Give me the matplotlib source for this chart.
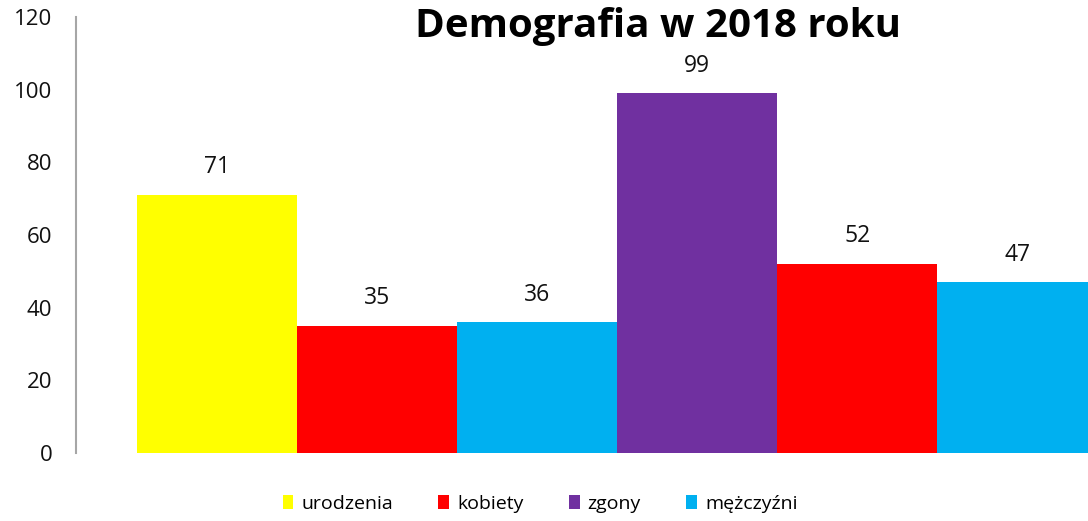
import matplotlib
matplotlib.use("Agg")
import matplotlib.pyplot as plt
from matplotlib.patches import Patch

plt.rcParams['font.family'] = ['Open Sans', 'DejaVu Sans']

# Data
bar_series = ["urodzenia", "kobiety", "mężczyźni", "zgony", "kobiety", "mężczyźni"]
bar_values = [71, 35, 36, 99, 52, 47]
legend_series = ["urodzenia", "kobiety", "zgony", "mężczyźni"]
series_colors = {"urodzenia": "#FFFF00", "kobiety": "#FF0000",
                 "zgony": "#7030A0", "mężczyźni": "#00B0F0"}
y_ticks = [0, 20, 40, 60, 80, 100, 120]
title = "Demografia w 2018 roku"

fig = plt.figure(figsize=(10.88, 5.21), dpi=100)
ax = fig.add_axes([76/1088, 68/521, 1 - 76/1088, (453-17)/521])

xs = list(range(len(bar_values)))
ax.bar(xs, bar_values, width=1.0, align='edge',
       color=[series_colors[s] for s in bar_series], linewidth=0)
for x, v in zip(xs, bar_values):
    ax.text(x + 0.5, v + 4.3, str(v), ha='center', va='bottom', fontsize=16.5, color='#111111')

ax.set_xlim(-0.38, 5.94)
ax.set_ylim(0, 120)
ax.set_yticks(y_ticks)
ax.set_yticklabels([str(t) for t in y_ticks], fontsize=16, color='#111111')
ax.tick_params(axis='y', length=0, pad=17)
ax.set_xticks([])
for s in ['top', 'right', 'bottom']:
    ax.spines[s].set_visible(False)
ax.spines['left'].set_color('#A6A6A6')
ax.spines['left'].set_linewidth(1.5)

fig.text(658/1088, 1 - 27/521, title, ha='center', va='center',
         fontsize=29, fontweight='bold', color='black')

handles = [Patch(facecolor=series_colors[s], edgecolor='none') for s in legend_series]
fig.legend(handles, legend_series, loc='center', bbox_to_anchor=(540/1088, 1 - 504/521),
           ncol=4, frameon=False, fontsize=14, handlelength=0.55, handleheight=0.75,
           handletextpad=0.4, columnspacing=2.35)

fig.savefig("out.png", dpi=100)
